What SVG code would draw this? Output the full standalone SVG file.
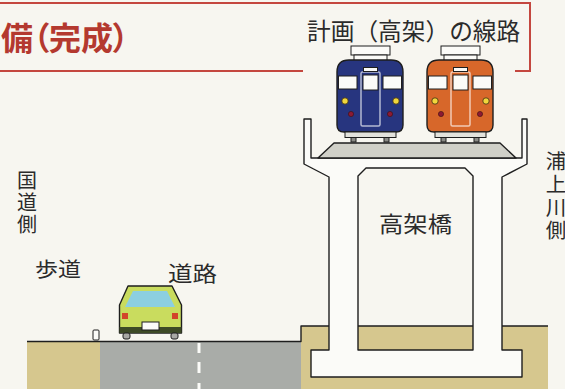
<svg xmlns="http://www.w3.org/2000/svg" width="565" height="389" viewBox="0 0 565 389">
  <style>
    .ja { font-family: "Noto Sans CJK JP", "Noto Sans CJK SC", sans-serif; fill: #2b2b2b; }
    .vert { writing-mode: vertical-rl; }
    .title { font-family: "Noto Sans CJK JP", sans-serif; font-weight: bold; fill: #b4392f; font-feature-settings: "palt"; }
    .frame { stroke: #c4473f; stroke-width: 2; fill: none; }
    .ink { stroke: #1e1e1e; stroke-width: 1.4; stroke-linejoin: round; }
    .thin { stroke: #1e1e1e; stroke-width: 1; }
    .soil { fill: #d6c78e; }
  </style>
  <defs>
    <!-- train front, body painted with currentColor; left edge of body at x=0 -->
    <g id="train-front">
      <rect x="14" y="46" width="39" height="9" fill="#fbfbf8" class="thin"/>
      <rect x="17" y="55" width="33" height="6" fill="#fbfbf8" class="thin"/>
      <path d="M0,72 Q0,60 12,60 H54 Q66,60 66,72 V125 Q66,132 59,132 H7 Q0,132 0,125 Z" fill="currentColor" class="ink"/>
      <rect x="1.5" y="76" width="18.5" height="13" fill="#fbfbf8" class="thin"/>
      <rect x="46" y="76" width="18.5" height="13" fill="#fbfbf8" class="thin"/>
      <rect x="24" y="72" width="19" height="54" rx="1.5" fill="none" stroke="#ffffff" stroke-opacity="0.65" stroke-width="1.5"/>
      <rect x="26" y="75" width="15" height="15" fill="#fbfbf8" class="thin"/>
      <rect x="26.5" y="67.5" width="14" height="4" fill="#fbfbf8" class="thin"/>
      <circle cx="8" cy="101" r="3.2" fill="#f1d63c" stroke="#3a2a10" stroke-width="0.8"/>
      <circle cx="59" cy="101" r="3.2" fill="#f1d63c" stroke="#3a2a10" stroke-width="0.8"/>
      <circle cx="14" cy="114" r="2.6" fill="#8c1a34" stroke="#3a1010" stroke-width="0.6"/>
      <circle cx="53" cy="114" r="2.6" fill="#8c1a34" stroke="#3a1010" stroke-width="0.6"/>
      <rect x="8" y="132" width="51" height="5.5" fill="#e2e2dc" class="thin"/>
      <rect x="14" y="137.5" width="5" height="4.5" fill="#8a8a86" class="thin"/>
      <rect x="47" y="137.5" width="5" height="4.5" fill="#8a8a86" class="thin"/>
    </g>
  </defs>

  <rect width="565" height="389" fill="#f7f6f0"/>

  <!-- heading frame -->
  <g id="heading">
    <path class="frame" d="M0,3 H531 M530,3 V72 M0,71 H303 M515,71 H531"/>
    <text class="title" x="1" y="50" font-size="32">備（完成）</text>
    <text class="ja" x="307" y="40" font-size="23.7">計画（高架）の線路</text>
  </g>

  <!-- ground and road -->
  <g id="ground">
    <rect class="soil" x="27" y="342" width="73" height="47"/>
    <rect x="100" y="342" width="201" height="47" fill="#a9aca8"/>
    <path class="soil" d="M301,326 H548 V389 H301 Z"/>
    <g fill="#fbfbf8">
      <rect x="197.5" y="343" width="3" height="10"/>
      <rect x="197.5" y="362" width="3" height="11"/>
      <rect x="197.5" y="383" width="3" height="8"/>
    </g>
    <path class="ink" fill="none" d="M27,341.5 H301 V326 H548"/>
  </g>

  <!-- viaduct -->
  <g id="viaduct">
    <path class="ink" fill="#fbfbf8" fill-rule="evenodd"
      d="M304,119 V164 L329,177 V350 H311 V377 H522 V350 H502 V177 L527,164 V119 H522 V158 H311 V119 Z
         M358,350 V176 L366,168 H465 L473,176 V350 Z"/>
    <polygon class="ink" points="334,143 500,143 516,158 318,158" fill="#d0d0c8"/>
  </g>

  <!-- trains on the deck -->
  <g id="train-blue" color="#27357f">
    <use href="#train-front" transform="translate(337,0)"/>
  </g>
  <g id="train-orange" color="#d7672a">
    <use href="#train-front" transform="translate(427,0)"/>
  </g>

  <!-- car and bollard -->
  <g id="car">
    <path class="ink" fill="#c9dc5e" d="M128,286 H172 L181.5,305 V333 H119.5 V305 Z"/>
    <polygon points="133,291 167,291 175,307 125,307" fill="#8ccfe0"/>
    <rect x="119.5" y="327" width="62" height="6" fill="#3d4a26"/>
    <rect x="142" y="322" width="17" height="8" fill="#fbfbf8" class="thin"/>
    <rect x="122" y="313" width="6" height="6" fill="#d2452a"/>
    <rect x="172" y="313" width="6" height="6" fill="#d2452a"/>
    <rect x="123" y="333" width="7" height="6" rx="2" fill="#a8a8a4" class="thin"/>
    <rect x="171" y="333" width="7" height="6" rx="2" fill="#a8a8a4" class="thin"/>
  </g>
  <g id="bollard">
    <rect x="93" y="330" width="6" height="10" rx="1" fill="#fbfbf8" class="thin"/>
  </g>

  <!-- labels -->
  <g id="labels" class="ja">
    <text class="vert" x="27" y="170" font-size="20" letter-spacing="2">国道側</text>
    <text x="35" y="277" font-size="20" textLength="46" lengthAdjust="spacingAndGlyphs">歩道</text>
    <text x="168" y="281" font-size="21" textLength="49" lengthAdjust="spacingAndGlyphs">道路</text>
    <text x="379" y="232" font-size="22" textLength="73" lengthAdjust="spacingAndGlyphs">高架橋</text>
    <text class="vert" x="556" y="151" font-size="20.5" letter-spacing="2.5">浦上川側</text>
  </g>
</svg>
